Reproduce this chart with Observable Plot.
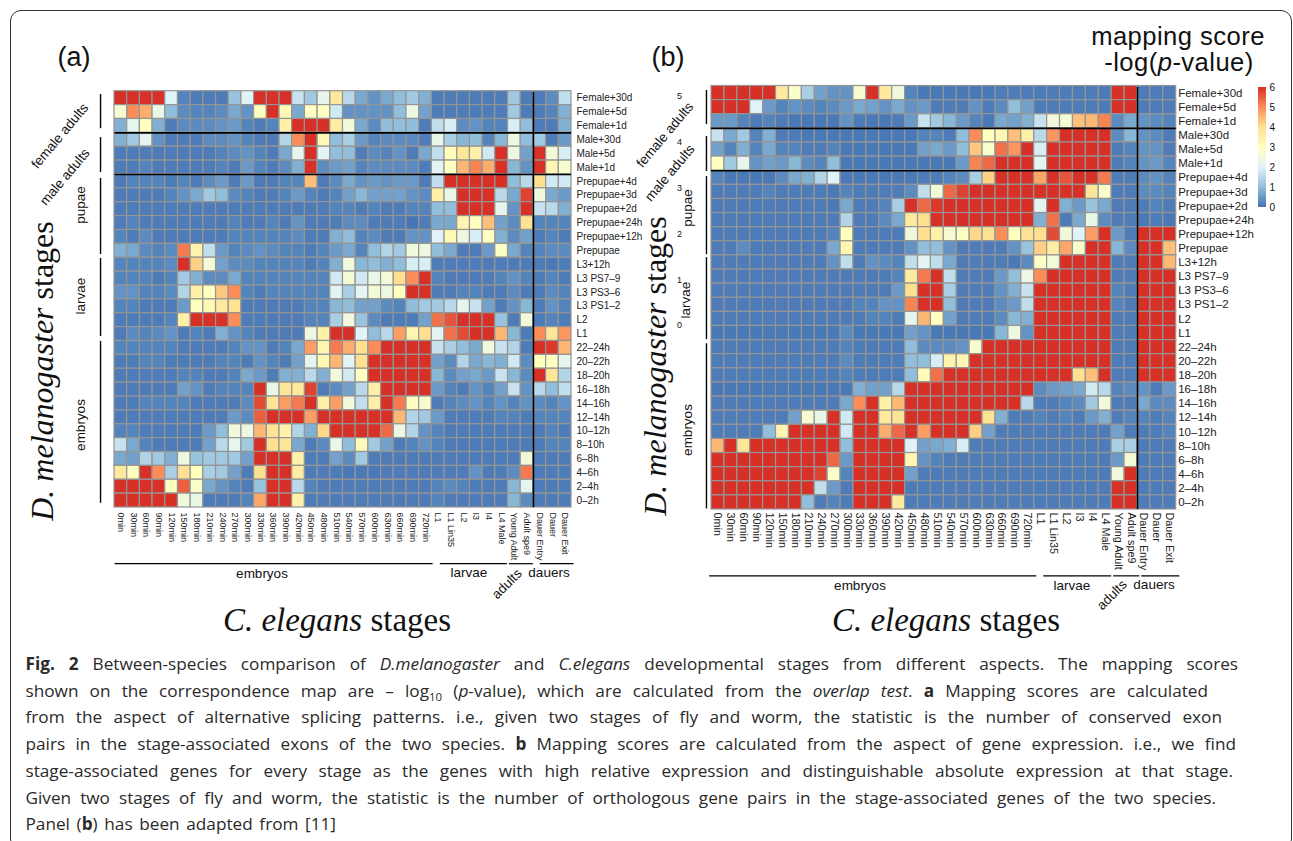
<!DOCTYPE html>
<html><head><meta charset="utf-8">
<script src="https://cdn.jsdelivr.net/npm/d3@7"></script>
<script src="https://cdn.jsdelivr.net/npm/@observablehq/plot@0.6"></script>
<style>
html,body{margin:0;padding:0;background:#fff;overflow:hidden}
#page{position:relative;width:1293px;height:841px;overflow:hidden;font-family:"Liberation Sans",sans-serif;color:#111}
#frame{position:absolute;left:9.5px;top:10px;width:1282px;height:840px;border:1.5px solid #333;border-radius:11px;box-sizing:border-box}
.holder{position:absolute}
.holder svg{overflow:visible;background:none;display:block}
.t{position:absolute;white-space:nowrap;line-height:1;transform:translate(-50%,-50%)}
.cap{position:absolute;left:25.5px;white-space:nowrap;font-family:"Open Sans",sans-serif;font-size:17.2px;line-height:1;color:#2a2a2a;text-align:justify;text-align-last:justify}
.cap sub{font-size:11.5px;line-height:0}
</style></head><body>
<div id="page"><div id="frame"></div></div>
<script>
const rowLabels=["Female+30d","Female+5d","Female+1d","Male+30d","Male+5d","Male+1d","Prepupae+4d","Prepupae+3d","Prepupae+2d","Prepupae+24h","Prepupae+12h","Prepupae","L3+12h","L3 PS7–9","L3 PS3–6","L3 PS1–2","L2","L1","22–24h","20–22h","18–20h","16–18h","14–16h","12–14h","10–12h","8–10h","6–8h","4–6h","2–4h","0–2h"];
const colLabels=["0min","30min","60min","90min","120min","150min","180min","210min","240min","270min","300min","330min","360min","390min","420min","450min","480min","510min","540min","570min","600min","630min","660min","690min","720min","L1","L1 Lin35","L2","I3","I4","L4 Male","Young Adult","Adult spe9","Dauer Entry","Dauer","Dauer Exit"];
const colorStops=[0,1,2,3,4,5,6];
const colorRange=["#4575B4","#91BFDB","#E0F3F8","#FFFFBF","#FEE090","#FC8D59","#D73027"];

// Panel (a): alternative-splicing mapping scores
const a00=[6,6,6,6,2,.2,.1,.1,.1,1.1,2,6,6,6,1.7,1.2,2.2,3.7,1.5,.7,.4,.7,1,1.2,.8,.1,.1,.1,.1,.1,.1,1.2,.1,.1,.3,1.6];
const a01=[2.7,5,4.6,2.3,1,.3,.2,.2,.3,.7,.4,3,6,3.2,.7,3,3,1.8,.4,.4,.4,.4,1,2.4,.6,.1,.1,.1,.1,.1,.1,1.2,.1,.1,.2,.8];
const a02=[.8,2.2,3,.8,.1,.3,.3,.3,.4,.5,.2,.1,.2,3.5,6,6,6,3.6,2.5,.7,.3,1,1,1,.1,1.6,1.9,.3,.4,.2,.2,1.9,1,.1,.1,.8];
const a03=[.8,1.2,2.1,.4,.1,.1,.1,.3,.3,.4,.2,.1,.1,1.4,5,6,3.2,1,1.3,.5,.2,.3,.3,.3,.1,2.3,1.3,.9,1,.2,.9,2.4,1,1.2,.1,.5];
const a04=[.1,.1,.1,.1,.1,.1,.1,.1,.2,.3,.4,.2,.1,.7,2.2,6,2.1,1,1,.1,.3,.2,.4,.1,.7,1.6,3.1,3.8,3.5,1.8,6,2.4,.6,6,2.6,1.9];
const a05=[.1,.1,.2,.1,.1,.1,.1,.1,.2,.1,.5,.2,.1,.3,.8,6,.3,.5,.6,.2,.3,.3,.3,.3,.1,2.1,3,4.5,5.1,4.6,6,.9,.4,6,3.3,2.7];
const a06=[.1,.2,.2,.2,.1,.2,.1,.3,.5,.1,.5,.1,.1,.2,.2,4.4,.1,.3,.7,.4,.5,.4,.5,.5,.1,1.6,6,6,6,6,6,1,1.5,4,1.8,1.8];
const a07=[.1,.1,.1,.1,.2,.4,.7,1.2,1,.3,.2,.1,.1,.2,.5,.2,.1,.2,.6,.9,.6,.6,.6,.4,.3,3.5,2.3,6,6,6,1.5,.7,5.8,2.5,.7,.5];
const a08=[.1,.1,.1,.1,.1,.1,.1,.1,.1,.1,.1,.1,.1,.1,.1,.1,.1,.2,.2,.1,.2,.1,.1,.2,.2,1,1,6,6,6,2.2,.4,6,1.7,1.5,.8];
const a09=[.1,.2,.1,.1,.1,.1,.1,.1,.1,.2,.1,.1,.2,.1,.4,.1,.1,.1,.3,.3,.1,.1,.1,0,.1,.7,.7,3.3,3,4.4,.6,.3,3.9,.2,.2,.2];
const a10=[.2,.1,.3,.1,.1,.1,.1,.1,.1,.2,.2,.2,.2,.2,.3,.1,.1,.8,1,.2,.3,.1,.1,.4,.4,2,3.2,2.4,1.9,3,.8,.3,.6,.1,.2,.1];
const a11=[.8,.7,.3,.2,.3,5.2,3.4,1.6,.5,.2,.3,.4,.3,.2,.2,.1,.2,.5,.7,.2,1,1.4,1.2,2.5,2.4,1,.7,.1,.1,.5,2.9,.7,.2,.2,.3,.3];
const a12=[.2,.2,.2,.2,.3,6,4.2,2.6,.6,.3,.3,.2,.2,.2,.2,.1,.2,.8,2.5,.9,1,.8,1,1.9,1.9,.1,.1,.1,.1,.1,.1,.1,.1,.1,.05,.1];
const a13=[.2,.2,.2,.1,.2,1.2,.8,.3,.3,.7,.2,.2,.2,.2,.2,.2,.2,1.8,2.6,1.8,2.3,2.6,4,5,6,.2,.1,.1,.1,.1,.2,.4,.2,.1,.2,.1];
const a14=[.4,.4,.2,.2,.3,1.4,3.5,3,4.3,5,.2,.1,.2,.2,.2,.2,.2,2.1,1.3,2.1,2.6,2.4,3,6,6,.1,.1,.2,.2,.1,.1,.3,.1,.1,.3,.2];
const a15=[.2,.2,.1,.1,.1,.5,3,3.2,3.7,3.9,.1,.1,.1,.1,.1,.2,.2,.9,1,.6,.6,.3,.2,1,1.2,1.2,1.5,2.2,1.7,.6,.1,.4,.9,.1,.4,.2];
const a16=[.1,.1,.1,.1,.2,3.5,6,6,6,5,.1,.1,.1,.1,.1,.2,.2,1.3,2.5,1.1,.3,.1,.1,.1,.6,5.3,5.6,6,6,6,1.1,.1,2.5,.1,.2,.1];
const a17=[.1,.3,.2,.3,.4,.1,.2,.1,.8,.4,.2,.1,.1,.1,.1,2.4,3.5,6,6,2,1,1.5,4.8,3.3,4,2.1,5.3,5.7,6,6,4.5,.9,.1,5,3.8,4.9];
const a18=[.2,.2,.2,.2,.2,.1,.1,.1,.1,.2,.4,.4,.1,.2,.7,4.8,3.3,5.2,4.6,4,5,6,6,6,6,1.7,1.3,1,.7,2.5,1.7,1.4,.1,6,5.9,4.5];
const a19=[.1,.1,.2,.2,.1,.1,.1,.1,.2,.2,.1,.4,.2,.1,.6,2.2,3.3,4.5,2.1,4,6,6,6,6,6,.6,.3,1.4,.7,.9,.8,1.8,.3,3,3,2.2];
const a20=[.1,.1,.1,.1,.1,.2,.2,.1,.1,.2,.7,.5,.1,.8,.8,1.5,.8,2.5,1.8,3,6,6,6,6,6,.9,.3,.6,.7,.5,1.7,.9,.3,6,3.8,1.4];
const a21=[.1,.1,.1,.1,.1,.6,.4,.1,.2,.2,.2,6,2.3,3.8,3.7,5.8,.1,.3,.6,1.5,3.5,6,6,6,6,.5,.2,.1,.4,.2,.6,1.7,.4,1.5,1,1.6];
const a22=[.1,.1,.2,.2,.2,.2,.1,.1,.1,.1,.3,5.7,3.9,4.8,5.2,6,3.5,4.8,2.5,1.6,3.5,6,5.2,3,2.7,.1,.2,.3,.4,.2,.4,.2,.4,.3,.2,.4];
const a23=[.1,.1,.1,.1,.1,.1,.1,.1,.1,.5,.3,5.5,6,6,6,4.8,6,6,6,6,6,6,4.5,1.4,1.2,.5,.1,.1,.1,.1,.2,.2,.1,.2,.2,.2];
const a24=[.2,.2,.1,.1,.1,.1,.1,.5,1,2.5,2.4,4.5,3.9,3.4,1.4,.8,4.1,6,6,6,6,5.4,2.4,1.4,.4,.2,.1,.1,.1,.1,.1,.1,.1,.1,.2,.1];
const a25=[1.7,.7,.2,.1,.1,.1,.1,.6,1.5,2.2,1.2,6,4,3.8,.7,.1,.3,2.3,1,3.1,1.2,.6,.1,.2,.4,.2,.1,.1,.1,.1,.1,.1,.1,.1,.2,.2];
const a26=[.7,.6,1.4,1.2,.8,2.4,1.1,1.2,1.2,1.2,.6,6,6,6,3.4,.1,.1,.6,.3,1.2,.1,.1,.1,.1,.1,.1,.1,.1,.1,.1,.1,.1,2.5,.1,.1,.1];
const a27=[3.7,3,6,5,1.3,4,3,1.3,1.2,.6,.1,4,6,6,3.6,.1,.1,.1,.05,.05,.05,.1,.1,.1,.1,.1,.1,.1,.4,.1,.1,.3,5.2,.1,.1,.1];
const a28=[6,6,6,6,3,5.5,2.8,.7,.4,.2,.1,1.1,6,6,1.5,.2,.1,.1,.1,.1,.1,.1,.1,.1,.1,.2,.3,.2,.1,.1,.1,.9,2.1,.1,.1,.1];
const a29=[6,6,6,6,6,2.5,2.3,.1,.1,.1,.2,4.7,6,6,3.4,.1,.1,.1,.1,.1,.1,.1,.1,.1,.1,.2,.1,.1,.1,.1,.1,.9,.3,.1,.1,.1];
const panelA=[a00,a01,a02,a03,a04,a05,a06,a07,a08,a09,a10,a11,a12,a13,a14,a15,a16,a17,a18,a19,a20,a21,a22,a23,a24,a25,a26,a27,a28,a29];

// Panel (b): gene-expression mapping scores
const b00=[6,6,6,6,6,3.7,2.8,1.3,.6,.4,.4,2.7,6,3.7,2.5,.2,.05,.05,.05,.05,.05,.05,.1,.1,.1,.1,.1,.1,.1,.1,.1,6,6,.1,.1,.1];
const b01=[6,6,6,2,.5,.2,.4,.3,.2,.3,.5,.7,.6,.4,.7,.4,.5,.1,.1,.1,.4,.1,.3,1,.6,.1,.1,.1,.1,.1,.1,6,6,.1,.1,.1];
const b02=[.5,.5,.2,.1,.2,.1,.05,.05,.05,.05,.4,.1,.05,.05,.1,.5,1.7,1.2,.9,.5,.2,.05,.7,.6,.8,1.7,2.5,2.6,4.4,4.5,5.1,.3,.7,.4,.3,.2];
const b03=[1.7,.7,1.2,.2,.8,.1,.1,.05,.05,.05,.05,.05,.05,.05,.05,.05,.2,.2,.1,1,5,3,3.3,4.4,3.5,1.5,4.9,6,6,6,6,.3,.9,.4,.3,.1];
const b04=[.6,.2,.8,.2,.7,.2,.2,.1,.1,.2,.05,.05,.05,.05,.05,.05,.6,.7,.5,1,4.3,2.8,5.3,4.9,6,1.9,6,6,6,6,6,.1,.2,.4,.4,.1];
const b05=[3,1.2,2.2,.4,.6,.5,.9,.3,.2,1,.05,.05,.05,.05,.05,.05,.05,.05,.05,.5,5.1,5.4,6,6,6,2.2,6,6,6,6,6,.1,.2,.4,.5,.2];
const b06=[.2,.05,.05,.05,.05,.3,.7,.8,1.4,2,.05,.05,.05,.05,.05,.05,.1,.1,.2,.3,1.3,4.2,6,6,6,4.7,6,5.6,6,6,5.2,.1,.1,.3,.4,.2];
const b07=[.1,.1,.1,.1,.2,.1,.1,.1,.1,.05,.2,.1,.1,.1,.1,.3,1.6,2.6,5.4,5.8,6,6,6,6,6,6,6,6,6,3.8,2.8,.1,.1,.3,.3,.2];
const b08=[.1,.1,.1,.1,.1,.1,.1,.1,.1,.05,.7,.1,.1,.2,1.3,6,5.4,5.9,6,6,6,6,6,6,6,2.2,6,.8,.5,1.1,.7,.1,.1,.1,.2,.1];
const b09=[.1,.1,.1,.1,.1,.1,.1,.1,.1,.1,1.4,.1,.1,.3,.7,3.7,4,6,6,6,6,6,6,6,6,.8,5.3,.1,.7,2.3,.3,.1,.1,.05,.1,.05];
const b10=[.1,.1,.1,.1,.1,.1,.1,.1,.1,.2,3,.1,.1,.1,.1,2.5,4,3.5,2.7,3,4.1,3.9,5,3,3.9,4,5.7,2.5,2,4.8,6,.5,.1,6,6,6];
const b11=[.1,.1,.3,.1,.1,.1,.1,.1,.1,.7,3.3,.1,.1,.1,.1,.4,1,1,.4,.1,.1,.1,.1,.4,1.1,4.2,3.6,4.7,2.8,6,6,.9,.3,6,6,4.4];
const b12=[.1,.1,.1,.1,.1,.1,.1,.1,.1,.4,1.6,.1,.4,.3,.2,1.6,2.1,1.6,.7,.1,.1,.1,.1,.05,.3,2.9,2.6,6,6,6,6,.1,.1,6,6,4.5];
const b13=[.1,.1,.1,.1,.1,.1,.1,.1,.1,.1,.1,.1,.1,.1,.2,3.6,5.2,6,1.6,.1,.1,.1,.5,1,2.4,5,6,6,6,6,6,.1,.1,6,6,6];
const b14=[.1,.1,.1,.1,.1,.1,.1,.1,.1,.1,.1,.1,.1,.1,.5,4,6,6,1.3,.1,.1,.1,.4,.8,1.7,6,6,6,6,6,6,.2,.1,6,6,6];
const b15=[.1,.1,.1,.1,.1,.1,.1,.1,.1,.1,.1,.2,.2,.4,.4,5.1,6,6,1,.1,.1,.1,.3,.5,1.6,6,6,6,6,6,6,.2,.1,6,6,6];
const b16=[.1,.1,.1,.1,.1,.1,.1,.1,.1,.1,.1,.1,.2,.2,.1,2.2,4.5,3,.6,.1,.1,.1,.3,.9,.8,6,6,6,6,6,6,.1,.1,6,6,6];
const b17=[.05,.05,.05,.05,.05,.05,.05,.05,.05,.05,.3,.05,.05,.05,.05,.6,.4,.05,.05,.05,.05,.05,.9,2.4,.4,6,6,6,6,6,6,.1,.1,6,6,6];
const b18=[.1,.1,.1,.1,.1,.1,.1,.1,.1,.1,.2,.1,.1,.1,.1,1,.3,.3,.3,.4,2.7,6,6,6,6,6,6,6,6,6,6,.1,.1,6,6,6];
const b19=[.1,.1,.1,.1,.1,.1,.1,.1,.1,.1,.3,.1,.1,.1,.1,1,1,1.9,3.4,3.3,6,6,6,6,6,6,6,6,6,6,6,.1,.1,6,6,6];
const b20=[.1,.1,.1,.1,.1,.1,.1,.1,.1,.1,.2,.1,.1,.1,.1,1,3.1,5.3,6,6,6,6,6,6,6,6,6,6,4,4.4,6,.1,.1,6,6,6];
const b21=[.05,.05,.05,.05,.05,.05,.05,.05,.05,.05,.05,.8,.6,.6,1.5,6,6,6,6,6,6,6,6,6,6,.3,.5,.6,.7,1.8,1.5,.2,.3,.4,.1,.5];
const b22=[.1,.1,.1,.1,.1,.1,.1,.1,.1,.1,.7,5,6,3.5,4.5,6,6,6,6,6,6,6,6,6,1.5,.1,.1,.2,.3,1.2,2.5,.1,.1,.7,.3,.3];
const b23=[.1,.1,.1,.1,.1,.1,.6,2.7,2.3,6,1.8,6,6,3.7,3.9,6,6,6,6,6,6,3.9,.8,.1,.1,.2,.1,.2,.1,.5,.8,.1,.2,.2,.1,.2];
const b24=[.1,.1,.1,.1,1,3.3,6,6,6,6,1.8,6,6,4.6,5.4,6,4.8,6,6,6,4.2,.6,.1,.1,.1,.1,.1,.1,.1,.1,.1,.6,.1,.1,.1,.2];
const b25=[4.5,6,3.8,6,6,6,6,6,6,6,1,6,6,6,6,2,.6,.7,.8,1.9,.1,.1,.1,.1,.1,.1,.1,.1,.1,.1,.1,1.3,1.3,.1,.1,.1];
const b26=[6,6,6,6,6,6,6,6,6,5.4,.5,6,6,6,6,3.3,.4,.2,.1,.1,.1,.1,.1,.1,.1,.1,.1,.1,.1,.1,.1,.5,2.6,.1,.1,.1];
const b27=[6,6,6,6,6,6,6,6,5.8,2.8,.2,6,6,6,6,.6,.1,.1,.1,.1,.1,.1,.1,.1,.1,.1,.1,.1,.1,.1,.1,2.5,6,.1,.1,.1];
const b28=[6,6,6,6,6,6,6,6,1.6,.5,.1,6,6,6,6,.1,.1,.1,.1,.1,.1,.1,.1,.1,.1,.1,.1,.1,.1,.1,.1,6,6,.1,.1,.1];
const b29=[6,6,6,6,6,6,6,1,.1,.2,.1,6,6,6,3.7,.1,.1,.1,.1,.1,.1,.1,.1,.1,.1,.1,.1,.1,.1,.1,.1,6,6,.1,.1,.1];
const panelB=[b00,b01,b02,b03,b04,b05,b06,b07,b08,b09,b10,b11,b12,b13,b14,b15,b16,b17,b18,b19,b20,b21,b22,b23,b24,b25,b26,b27,b28,b29];

// Stage groupings, in row / column units
const rowSpansA=[[.24,2.7],[3.34,5.86],[6.29,11.76],[12.05,17.68],[18.03,29.7]];
const colSpansA=[[.05,25.1],[25.67,30.95],[31.1,33],[33.54,36.2]];
const rowSpansB=[[.32,2.73],[3.58,6.06],[6.42,11.95],[12.16,17.97],[18.26,29.96]];
const colSpansB=[[-.15,25.2],[25.74,31],[31.16,33.18],[33.33,36.28]];
const rowBreaks=[3,6];
const colBreak=33;
const legendTicks=[0,1,2,3,4,5,6];
const staleTicks=[0,1,2,3,4,5];

const page=document.getElementById("page");
function put(node,left,top){const d=document.createElement("div");d.className="holder";d.style.left=left+"px";d.style.top=top+"px";d.appendChild(node);page.appendChild(d);}

function heatmap(o){
  const cells=o.matrix.flatMap((row,j)=>row.map((v,i)=>({i,j,v})));
  return Plot.plot({
    width:o.width,height:o.height,
    marginLeft:o.left,marginTop:o.top,marginRight:o.width-o.right,marginBottom:o.height-o.bottom,
    style:{background:"none",fontFamily:"Liberation Sans",overflow:"visible",color:"#222"},
    x:{domain:[0,36],axis:null},
    y:{domain:[30,0],axis:null},
    color:{type:"linear",domain:colorStops,range:colorRange},
    marks:[
      Plot.rect(cells,{x1:"i",x2:d=>d.i+1,y1:"j",y2:d=>d.j+1,fill:"v",stroke:"#959595",strokeWidth:1.2}),
      Plot.ruleY(rowBreaks,{x1:o.breakX[0],x2:o.breakX[1],stroke:"#000",strokeWidth:1.6}),
      Plot.ruleX([colBreak],{y1:.1,y2:30,stroke:"#000",strokeWidth:1.6}),
      Plot.ruleX(o.rowSpans,{x:o.rowRuleX,y1:d=>d[0],y2:d=>d[1],stroke:"#000",strokeWidth:1.4}),
      Plot.ruleY(o.colSpans,{y:o.colRuleY,x1:d=>d[0],x2:d=>d[1],stroke:"#000",strokeWidth:1.2}),
      Plot.axisY(rowLabels.map((_,i)=>i+.5),{anchor:"right",tickSize:0,tickPadding:o.rowPad,tickFormat:d=>rowLabels[d-.5],fontSize:o.rowFont,label:null}),
      Plot.axisX(colLabels.map((_,i)=>i+.5),{anchor:"bottom",tickSize:0,tickPadding:o.colPad,tickRotate:90,tickFormat:d=>colLabels[d-.5],fontSize:o.colFont,label:null})
    ]
  });
}

put(heatmap({matrix:panelA,width:650,height:640,left:114,right:571,top:90.7,bottom:507,
  rowSpans:rowSpansA,colSpans:colSpansA,rowRuleX:-1.1,colRuleY:34.05,breakX:[.05,36],rowPad:5,colPad:5,rowFont:10,colFont:9}),0,0);
put(heatmap({matrix:panelB,width:643,height:640,left:61,right:525.7,top:85.5,bottom:509,
  rowSpans:rowSpansB,colSpans:colSpansB,rowRuleX:-.39,colRuleY:34.7,breakX:[0,36],rowPad:2,colPad:3,rowFont:11.5,colFont:10.8}),650,0);

// Colour key of panel (b)
const ramp=d3.range(0,6,.05);
put(Plot.plot({
  width:40,height:140,marginLeft:8,marginRight:24,marginTop:7,marginBottom:13,
  style:{background:"none",fontFamily:"Liberation Sans",overflow:"visible"},
  x:{domain:[0,1],axis:null},y:{domain:[0,6],axis:null},
  color:{type:"linear",domain:colorStops,range:colorRange},
  marks:[
    Plot.rect(ramp,{x1:0,x2:1,y1:d=>d,y2:d=>d+.05,fill:d=>d+.025}),
    Plot.axisY(legendTicks,{anchor:"right",tickSize:0,tickPadding:3,fontSize:10,label:null})
  ]
}),1250,80);

// Leftover tick numbers of panel (a)'s key
put(Plot.plot({
  width:20,height:249,marginLeft:19,marginRight:0,marginTop:10,marginBottom:10,
  style:{background:"none",fontFamily:"Liberation Sans",overflow:"visible"},
  x:{domain:[0,1],axis:null},y:{domain:[0,5],axis:null},
  marks:[Plot.axisY(staleTicks,{anchor:"left",tickSize:0,tickPadding:0,fontSize:9,label:null,textAnchor:"middle"})]
}),660,86);

function label(html,x,y,size,extra){const d=document.createElement("div");d.className="t";d.innerHTML=html;d.style.left=x+"px";d.style.top=y+"px";d.style.fontSize=size+"px";if(extra){if(extra.rotate!==undefined)d.style.transform="translate(-50%,-50%) rotate("+extra.rotate+"deg)";if(extra.family)d.style.fontFamily=extra.family;if(extra.spacing)d.style.letterSpacing=extra.spacing+"px";}page.appendChild(d);}
const serif='"Liberation Serif",serif';
label("(a)",74,57,27);
label("(b)",668,57,27);
label("mapping score",1178,37,25.6,{spacing:.45});
label("-log(<i>p</i>-value)",1179,63,25.6,{spacing:.45});
label("<i>C. elegans</i> stages",337,620,33,{family:serif});
label("<i>C. elegans</i> stages",946,620,33,{family:serif});
label("<i>D. melanogaster</i> stages",42,371,32,{family:serif,rotate:-90});
label("<i>D. melanogaster</i> stages",655,366,32,{family:serif,rotate:-90});
label("female adults",60,135.5,13.5,{rotate:-50});
label("male adults",65,177,13.5,{rotate:-50});
label("pupae",81,205,13.5,{rotate:-90});
label("larvae",81,296,13.5,{rotate:-90});
label("embryos",81,425,13.5,{rotate:-90});
label("female adults",665,135,13.5,{rotate:-50});
label("male adults",670,173,13.5,{rotate:-50});
label("pupae",688,208,13.5,{rotate:-90});
label("larvae",686,300,13.5,{rotate:-90});
label("embryos",688,430,13.5,{rotate:-90});
label("embryos",262,574,13.5);
label("larvae",469,573,13.5);
label("adults",507,584,13.5,{rotate:-45});
label("dauers",549,573,13.5);
label("embryos",860,586,13.5);
label("larvae",1072,586,13.5);
label("adults",1112,595,13.5,{rotate:-45});
label("dauers",1154,585,13.5);

const captionLines=[
 '<b>Fig. 2</b> Between-species comparison of <i>D.melanogaster</i> and <i>C.elegans</i> developmental stages from different aspects. The mapping scores',
 'shown on the correspondence map are – log<sub>10</sub> (<i>p</i>-value), which are calculated from the <i>overlap test</i>. <b>a</b> Mapping scores are calculated',
 'from the aspect of alternative splicing patterns. i.e., given two stages of fly and worm, the statistic is the number of conserved exon',
 'pairs in the stage-associated exons of the two species. <b>b</b> Mapping scores are calculated from the aspect of gene expression. i.e., we find',
 'stage-associated genes for every stage as the genes with high relative expression and distinguishable absolute expression at that stage.',
 'Given two stages of fly and worm, the statistic is the number of orthologous gene pairs in the stage-associated genes of the two species.',
 'Panel (<b>b</b>) has been adapted from [11]'];
const captionRight=[1238,1208,1222,1236,1233,1216,336];
captionLines.forEach((html,i)=>{const d=document.createElement("div");d.className="cap";d.innerHTML=html;d.style.top=(655+i*26.7)+"px";d.style.width=(captionRight[i]-25.5)+"px";page.appendChild(d);});
</script>
</body></html>
